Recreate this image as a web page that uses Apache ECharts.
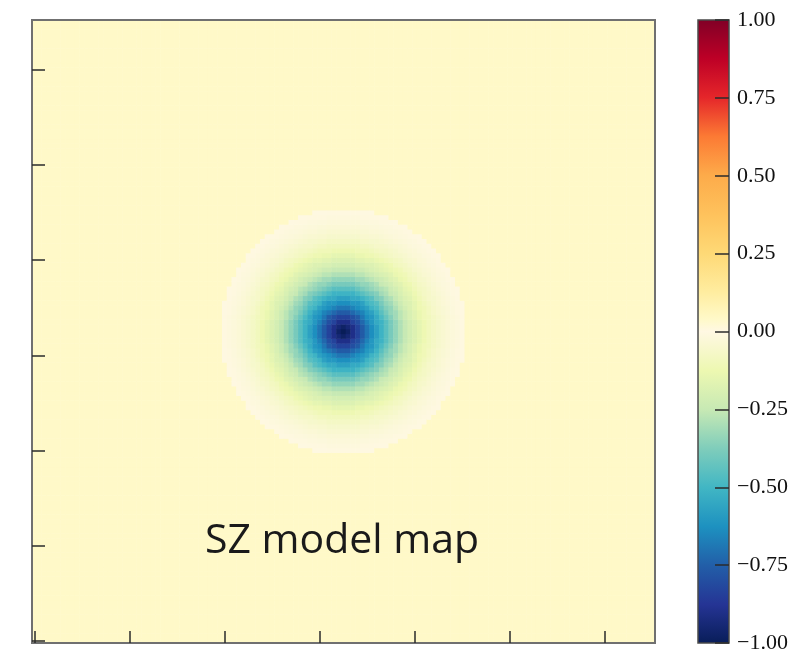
<!DOCTYPE html>
<html>
<head>
<meta charset="utf-8">
<script src="https://cdn.jsdelivr.net/npm/echarts@6/dist/echarts.min.js"></script>
<style>
  html, body { margin: 0; padding: 0; background: #ffffff; }
  #chart { width: 807px; height: 655px; }
</style>
</head>
<body>
<div id="chart"></div>
<script>
// Map size in pixels and the cluster centre (pixel indices)
const mapSize = 131;
const clusterCentre = [65, 65];

// Radial decrement profile of the SZ model, sampled every half pixel of radius
const radialStep = 0.5;
const radialProfile = [
  -1.000, -0.990, -0.970, -0.940, -0.900, -0.865, -0.830, -0.795, -0.760, -0.725,
  -0.690, -0.660, -0.630, -0.600, -0.570, -0.540, -0.510, -0.480, -0.450, -0.420,
  -0.390, -0.365, -0.340, -0.315, -0.290, -0.270, -0.250, -0.230, -0.210, -0.195,
  -0.180, -0.165, -0.150, -0.135, -0.120, -0.107, -0.095, -0.085, -0.075, -0.066,
  -0.058, -0.051, -0.044, -0.038, -0.032, -0.027, -0.022, -0.018, -0.014, -0.010,
  -0.007, -0.004
];
// Value of the map beyond the model's truncation radius
const outsideValue = 0.04;

// Colour-bar ticks
const colourbarTicks = [-1.00, -0.75, -0.50, -0.25, 0.00, 0.25, 0.50, 0.75, 1.00];

// Diverging colour scale (value -> colour)
const cmapValues = [-1.0, -0.875, -0.75, -0.625, -0.5, -0.375, -0.25, -0.125, 0.0, 0.04, 0.125, 0.25, 0.375, 0.5, 0.625, 0.75, 0.875, 1.0];
const cmapColors = ['#081d58', '#253494', '#225ea8', '#1d91c0', '#41b6c4', '#7fcdbb', '#c7e9b4', '#edf8b1',
                    '#fff8e3', '#fff9c8', '#ffeda0', '#fed976', '#fec25c', '#fdab4a', '#fc7a34', '#e5262a', '#bd0026', '#800026'];

function hexToRgb(h) {
  return [parseInt(h.slice(1, 3), 16), parseInt(h.slice(3, 5), 16), parseInt(h.slice(5, 7), 16)];
}
function colourAt(v) {
  for (let i = 0; i < cmapValues.length - 1; i++) {
    if (v <= cmapValues[i + 1]) {
      const t = (v - cmapValues[i]) / (cmapValues[i + 1] - cmapValues[i]);
      const a = hexToRgb(cmapColors[i]), b = hexToRgb(cmapColors[i + 1]);
      const c = a.map((x, k) => Math.round(x + (b[k] - x) * t));
      return 'rgb(' + c.join(',') + ')';
    }
  }
  return cmapColors[cmapColors.length - 1];
}
// Finely sampled colour list for the visualMap (evenly spaced from -1 to 1)
const visualColours = [];
for (let i = 0; i <= 400; i++) visualColours.push(colourAt(-1 + i / 200));

// Gradient stops for the colour bar (top = +1, bottom = -1)
const barStops = cmapValues.map((v, i) => ({ offset: (1 - v) / 2, color: cmapColors[i] })).reverse();

// Build the map cells by looking up each pixel's radius in the profile
const pixelIndex = [];
for (let i = 0; i < mapSize; i++) pixelIndex.push(String(i));
const mapCells = [];
for (let x = 0; x < mapSize; x++) {
  for (let y = 0; y < mapSize; y++) {
    const k = Math.round(Math.hypot(x - clusterCentre[0], y - clusterCentre[1]) / radialStep);
    const v = k < radialProfile.length ? radialProfile[k] : outsideValue;
    mapCells.push([x, y, v]);
  }
}

const chart = echarts.init(document.getElementById('chart'), null, { renderer: 'canvas' });

const tickStyle = { color: '#2b2b2b', width: 1.5 };
const everyTwenty = (i) => i % 20 === 0;

chart.setOption({
  animation: false,
  backgroundColor: '#ffffff',
  grid: [
    { left: 32, top: 20, width: 623, height: 623, show: true, borderColor: '#707070', borderWidth: 2, backgroundColor: 'transparent', z: 5 },
    { left: 698, top: 20, width: 31, height: 623, show: false }
  ],
  xAxis: [
    {
      gridIndex: 0, type: 'category', data: pixelIndex,
      axisLine: { show: false },
      axisTick: { show: true, inside: true, length: 12, alignWithLabel: true, interval: everyTwenty, lineStyle: tickStyle },
      axisLabel: { show: false }, splitLine: { show: false }, z: 6
    },
    { gridIndex: 1, type: 'category', data: ['bar'], show: false }
  ],
  yAxis: [
    {
      gridIndex: 0, type: 'category', data: pixelIndex,
      axisLine: { show: false },
      axisTick: { show: true, inside: true, length: 13, alignWithLabel: true, interval: everyTwenty, lineStyle: tickStyle },
      axisLabel: { show: false }, splitLine: { show: false }, z: 6
    },
    {
      gridIndex: 1, type: 'value', position: 'right', min: -1, max: 1, interval: 0.25,
      axisLine: { show: false },
      axisTick: { show: true, inside: true, length: 14, lineStyle: { color: '#2b2b2b', width: 1.5 } },
      axisLabel: {
        show: true, margin: 8, color: '#111111', fontFamily: 'Liberation Serif', fontSize: 22,
        customValues: colourbarTicks,
        formatter: (v) => v.toFixed(2).replace('-', '\u2212')
      },
      splitLine: { show: false }, z: 6
    }
  ],
  visualMap: {
    type: 'continuous', show: false, min: -1, max: 1, seriesIndex: 0, dimension: 2,
    inRange: { color: visualColours }
  },
  series: [
    {
      type: 'heatmap', xAxisIndex: 0, yAxisIndex: 0, data: mapCells,
      progressive: 0, emphasis: { disabled: true }, silent: true
    },
    {
      type: 'custom', xAxisIndex: 1, yAxisIndex: 1, silent: true,
      data: [[0, -1, 1]],
      renderItem: (params, api) => {
        const top = api.coord([0, api.value(2)]);
        const bottom = api.coord([0, api.value(1)]);
        const w = api.size([1, 0])[0];
        return {
          type: 'rect',
          shape: { x: top[0] - w / 2, y: top[1], width: w, height: bottom[1] - top[1] },
          style: {
            fill: new echarts.graphic.LinearGradient(0, 0, 0, 1, barStops),
            stroke: '#4a4a4a', lineWidth: 1.5
          }
        };
      },
      z: 2
    }
  ],
  graphic: [
    {
      type: 'text', x: 342, y: 541, z: 20,
      style: {
        text: 'SZ model map', fill: '#1a1a1a',
        font: '41px "Open Sans"', textAlign: 'center', textVerticalAlign: 'middle'
      }
    }
  ]
});
</script>
</body>
</html>
